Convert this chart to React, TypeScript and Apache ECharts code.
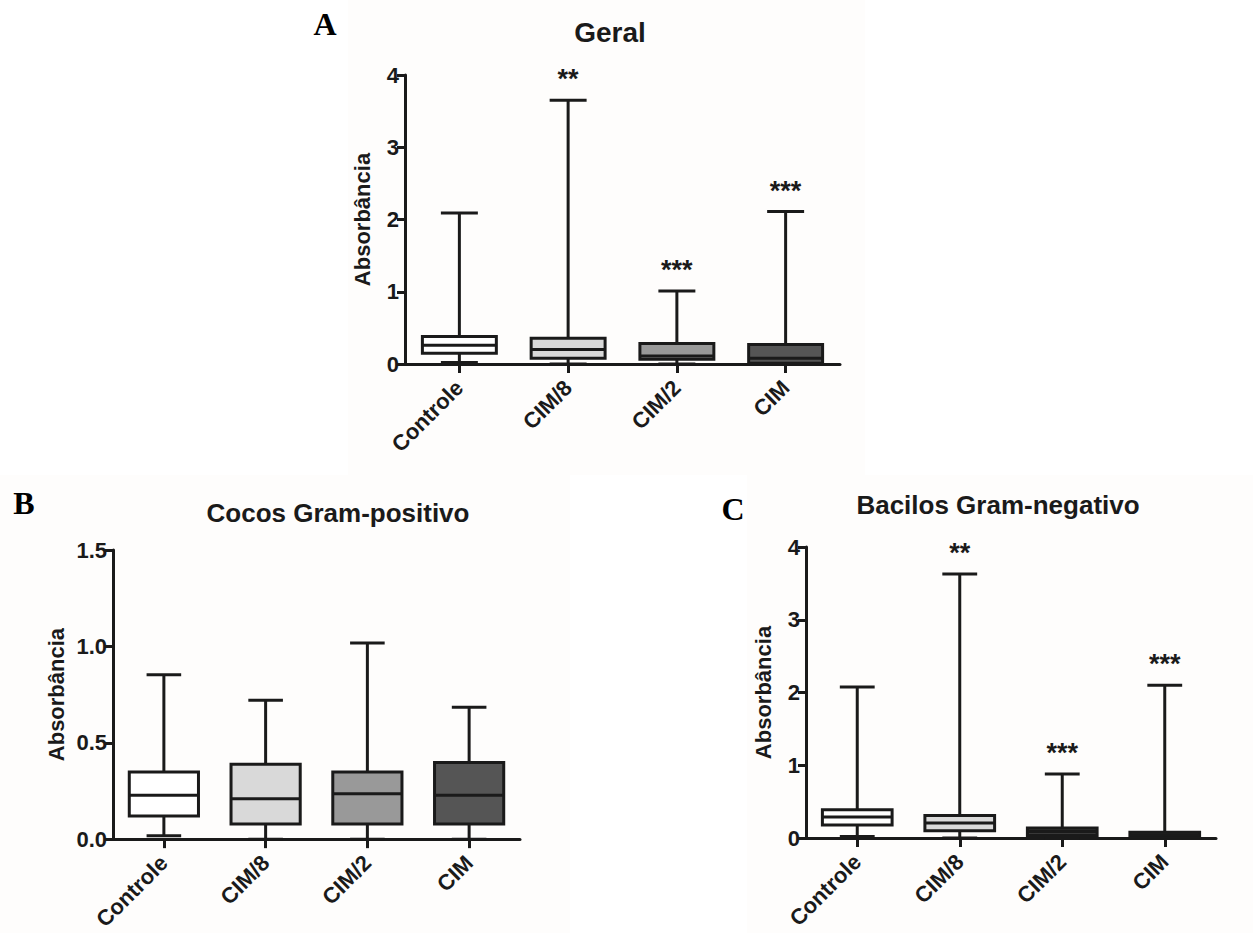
import React, { useEffect, useRef } from "react";
import * as echarts from "echarts";

// ---------- data ----------
const categories = ["Controle", "CIM/8", "CIM/2", "CIM"];

// [min, Q1, median, Q3, max]
const geralStats = [
  [0.02, 0.15, 0.26, 0.38, 2.09],
  [0.0, 0.08, 0.2, 0.355, 3.65],
  [0.0, 0.065, 0.11, 0.285, 1.01],
  [0.0, 0.01, 0.08, 0.27, 2.11],
];
const cocosStats = [
  [0.017, 0.12, 0.228, 0.348, 0.853],
  [0.0, 0.078, 0.21, 0.388, 0.72],
  [0.0, 0.078, 0.235, 0.348, 1.017],
  [0.0, 0.078, 0.228, 0.397, 0.684],
];
const bacilosStats = [
  [0.02, 0.18, 0.29, 0.39, 2.076],
  [0.0, 0.1, 0.206, 0.31, 3.63],
  [0.0, 0.036, 0.09, 0.137, 0.88],
  [0.0, 0.01, 0.045, 0.08, 2.1],
];

const geralSig = ["", "**", "***", "***"];
const cocosSig = ["", "", "", ""];
const bacilosSig = ["", "**", "***", "***"];

const boxColors = ["#ffffff", "#d9d9d9", "#999999", "#555555"];
const bacilosColors = ["#ffffff", "#d9d9d9", "#383838", "#474747"];

const geralTicks = { min: 0, max: 4, interval: 1 };
const cocosTicks = { min: 0, max: 1.5, interval: 0.5 };
const bacilosTicks = { min: 0, max: 4, interval: 1 };

const titles = ["Geral", "Cocos Gram-positivo", "Bacilos Gram-negativo"];
const letters = ["A", "B", "C"];
const yName = "Absorbância";

// ---------- styles ----------
const INK = "#1a1a1a";
const SANS = '"Liberation Sans", Arial, sans-serif';
const SERIF = '"Liberation Serif", "Times New Roman", serif';

function makeRender(colors: string[], sig: string[]) {
  return (params: any, api: any) => {
    const i = api.value(0);
    const mn = api.value(1);
    const q1 = api.value(2);
    const md = api.value(3);
    const q3 = api.value(4);
    const mx = api.value(5);
    const xc = api.coord([i, 0])[0];
    const band = api.size([1, 0])[0];
    const bw = band * 0.68;
    const cap = bw / 2;
    const y = (v: number) => api.coord([i, v])[1];
    const ls = { stroke: INK, lineWidth: 3 };
    const children: any[] = [
      { type: "line", shape: { x1: xc, y1: y(q3), x2: xc, y2: y(mx) }, style: ls },
      { type: "line", shape: { x1: xc, y1: y(q1), x2: xc, y2: y(mn) }, style: ls },
      { type: "line", shape: { x1: xc - cap / 2, y1: y(mx), x2: xc + cap / 2, y2: y(mx) }, style: ls },
      { type: "line", shape: { x1: xc - cap / 2, y1: y(mn), x2: xc + cap / 2, y2: y(mn) }, style: ls },
      {
        type: "rect",
        shape: { x: xc - bw / 2, y: y(q3), width: bw, height: y(q1) - y(q3) },
        style: { fill: colors[i], stroke: INK, lineWidth: 3 },
      },
      { type: "line", shape: { x1: xc - bw / 2, y1: y(md), x2: xc + bw / 2, y2: y(md) }, style: ls },
    ];
    if (sig[i]) {
      children.push({
        type: "text",
        style: {
          text: sig[i],
          x: xc,
          y: y(mx) - 21,
          align: "center",
          verticalAlign: "middle",
          fill: INK,
          font: `bold 27px ${SANS}`,
        },
      });
    }
    return { type: "group", children };
  };
}

export default function App() {
  const ref = useRef<HTMLDivElement>(null);
  useEffect(() => {
    if (!ref.current) return;
    const chart = echarts.init(ref.current, null, { renderer: "svg" });

    const grids = [
      { left: 405, top: 75, width: 435, height: 289 },
      { left: 113, top: 550, width: 407, height: 290 },
      { left: 806, top: 547, width: 410, height: 291 },
    ];
    const ticks = [geralTicks, cocosTicks, bacilosTicks];
    const nameGaps = [32, 46, 32];
    const stats = [geralStats, cocosStats, bacilosStats];
    const sigs = [geralSig, cocosSig, bacilosSig];
    const cols = [boxColors, boxColors, bacilosColors];

    const xAxes = grids.map((_, g) => ({
      type: "category",
      gridIndex: g,
      data: categories,
      axisLine: { show: true, lineStyle: { color: INK, width: 3 } },
      axisTick: { show: true, alignWithLabel: true, length: 9, lineStyle: { color: INK, width: 3 } },
      axisLabel: {
        rotate: 45,
        margin: 20,
        color: INK,
        fontSize: 22,
        fontWeight: "bold",
        fontFamily: SANS,
      },
      splitLine: { show: false },
    }));

    const yAxes = grids.map((_, g) => ({
      type: "value",
      gridIndex: g,
      min: ticks[g].min,
      max: ticks[g].max,
      interval: ticks[g].interval,
      name: yName,
      nameLocation: "middle",
      nameRotate: 90,
      nameGap: nameGaps[g],
      nameTextStyle: { color: INK, fontSize: 22, fontWeight: "bold", fontFamily: SANS },
      axisLine: { show: true, lineStyle: { color: INK, width: 3 } },
      axisTick: { show: true, length: 8, lineStyle: { color: INK, width: 3 } },
      axisLabel: {
        margin: 6,
        color: INK,
        fontSize: 22,
        fontWeight: "bold",
        fontFamily: SANS,
        formatter: g === 1 ? (v: number) => v.toFixed(1) : (v: number) => String(v),
      },
      splitLine: { show: false },
    }));

    const series = grids.map((_, g) => ({
      type: "custom",
      xAxisIndex: g,
      yAxisIndex: g,
      clip: false,
      z: 3,
      renderItem: makeRender(cols[g], sigs[g]),
      encode: { x: 0, y: [1, 2, 3, 4, 5] },
      data: stats[g].map((s, i) => [i, ...s]),
    }));

    const titlePos = [
      [610, 32],
      [338, 513],
      [998, 505],
    ];
    const titleSizes = [28, 26, 26];
    const letterPos = [
      [325, 24],
      [24, 503],
      [733, 509],
    ];

    const bg = "#fefdfc";
    const graphic: any[] = [
      { type: "rect", z: -1, shape: { x: 348, y: 0, width: 517, height: 475 }, style: { fill: bg } },
      { type: "rect", z: -1, shape: { x: 0, y: 475, width: 570, height: 458 }, style: { fill: bg } },
      { type: "rect", z: -1, shape: { x: 747, y: 475, width: 506, height: 458 }, style: { fill: bg } },
      ...titles.map((t, k) => ({
        type: "text",
        z: 10,
        x: titlePos[k][0],
        y: titlePos[k][1],
        style: {
          text: t,
          align: "center",
          verticalAlign: "middle",
          fill: INK,
          font: `bold ${titleSizes[k]}px ${SANS}`,
        },
      })),
      ...letters.map((t, k) => ({
        type: "text",
        z: 10,
        x: letterPos[k][0],
        y: letterPos[k][1],
        style: { text: t, align: "center", verticalAlign: "middle", fill: "#000", font: `bold 32px ${SERIF}` },
      })),
    ];

    chart.setOption({
      animation: false,
      backgroundColor: "#ffffff",
      grid: grids,
      xAxis: xAxes,
      yAxis: yAxes,
      series,
      graphic,
    } as any);

    return () => chart.dispose();
  }, []);

  return (
    <div
      ref={ref}
      style={{ position: "absolute", left: 0, top: 0, width: 1253, height: 933 }}
    />
  );
}
